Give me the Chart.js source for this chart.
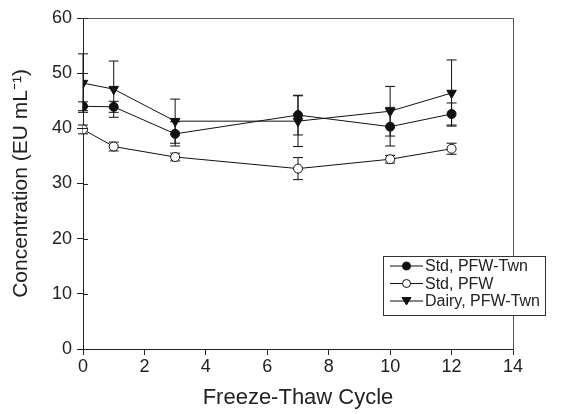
<!DOCTYPE html>
<html>
<head>
<meta charset="utf-8">
<script src="https://cdn.jsdelivr.net/npm/chart.js@4"></script>
<style>
  html, body { margin: 0; padding: 0; background: #fff; }
  #wrap { width: 566px; height: 414px; }
</style>
</head>
<body>
<div id="wrap"><canvas id="chart"></canvas></div>
<script>
const cycles = [0, 1, 3, 7, 10, 12];

const stdTwn = [44.0, 43.9, 39.0, 42.4, 40.3, 42.6];
const stdTwnErr = [0.8, 1.0, 2.2, 3.6, 3.5, 2.0];

const stdPfw = [39.8, 36.7, 34.8, 32.7, 34.4, 36.3];
const stdPfwErr = [0.8, 0.8, 0.7, 2.0, 0.7, 1.0];

const dairyTwn = [48.2, 47.1, 41.3, 41.3, 43.1, 46.4];
const dairyTwnErr = [5.3, 5.1, 4.0, 4.6, 4.5, 6.0];

const xTicks = [0, 2, 4, 6, 8, 10, 12, 14];
const yTicks = [0, 10, 20, 30, 40, 50, 60];

const FONT = '"Liberation Sans", Arial, sans-serif';
const ctx = document.getElementById('chart');

const pts = (vals, errs) => cycles.map((c, i) => ({ x: c, y: vals[i], err: errs[i] }));

// error bars, drawn before the points so markers sit on top
const errorBars = {
    id: 'errorBars',
    beforeDatasetsDraw(chart) {
        const c = chart.ctx;
        const xs = chart.scales.x, ys = chart.scales.y;
        c.save();
        c.strokeStyle = '#111';
        c.lineWidth = 1;
        chart.data.datasets.forEach((ds) => {
            ds.data.forEach((p) => {
                const px = xs.getPixelForValue(p.x);
                const top = ys.getPixelForValue(p.y + p.err);
                const bot = ys.getPixelForValue(p.y - p.err);
                c.beginPath();
                c.moveTo(px, top); c.lineTo(px, bot);
                c.moveTo(px - 5, top); c.lineTo(px + 5, top);
                c.moveTo(px - 5, bot); c.lineTo(px + 5, bot);
                c.stroke();
            });
        });
        c.restore();
    }
};

// box around plot + legend inside it
const frame = {
    id: 'frame',
    afterDraw(chart) {
        const c = chart.ctx;
        const a = chart.chartArea;
        c.save();
        c.strokeStyle = '#555';
        c.lineWidth = 1;
        c.beginPath();
        c.moveTo(a.left, a.top + 0.5); c.lineTo(a.right + 0.5, a.top + 0.5);
        c.lineTo(a.right + 0.5, a.bottom);
        c.stroke();

        // inner halves of the y ticks
        c.strokeStyle = '#222';
        c.beginPath();
        yTicks.forEach((v) => {
            const py = Math.round(chart.scales.y.getPixelForValue(v)) + 0.5;
            c.moveTo(a.left, py); c.lineTo(a.left + 5, py);
        });
        c.stroke();

        // legend
        const bx = 383, by = 256, bw = 162, bh = 59;
        c.fillStyle = '#fff';
        c.fillRect(bx, by, bw, bh);
        c.strokeStyle = '#333';
        c.strokeRect(bx + 0.5, by + 0.5, bw, bh);
        c.font = '16px ' + FONT;
        c.textBaseline = 'middle';
        chart.data.datasets.forEach((ds, i) => {
            const y = by + 10 + i * 17.5;
            c.strokeStyle = '#111';
            c.beginPath();
            c.moveTo(390, y); c.lineTo(423, y);
            c.stroke();
            c.fillStyle = ds.pointBackgroundColor;
            c.strokeStyle = '#111';
            c.beginPath();
            if (ds.pointStyle === 'triangle') {
                c.moveTo(402, y - 3.5); c.lineTo(411, y - 3.5); c.lineTo(406.5, y + 4);
                c.closePath();
            } else {
                c.arc(406.5, y, 4, 0, Math.PI * 2);
            }
            c.fill(); c.stroke();
            c.fillStyle = '#222';
            c.fillText(ds.label, 425, y + 1);
        });
        c.restore();
    }
};

const dataset = (label, vals, errs, style, fill) => ({
    label: label,
    data: pts(vals, errs),
    borderColor: '#111',
    borderWidth: 1,
    pointStyle: style,
    rotation: style === 'triangle' ? 180 : 0,
    pointRadius: style === 'triangle' ? 5.5 : 4.5,
    pointBackgroundColor: fill,
    pointBorderColor: '#111',
    pointBorderWidth: 1,
    tension: 0,
    fill: false,
});

new Chart(ctx, {
    type: 'line',
    data: {
        datasets: [
            dataset('Std, PFW-Twn', stdTwn, stdTwnErr, 'circle', '#111'),
            dataset('Std, PFW', stdPfw, stdPfwErr, 'circle', '#fff'),
            dataset('Dairy, PFW-Twn', dairyTwn, dairyTwnErr, 'triangle', '#111'),
        ],
    },
    options: {
        responsive: true,
        maintainAspectRatio: false,
        animation: false,
        layout: { padding: { top: 18, right: 53, left: 0, bottom: 0 } },
        plugins: {
            legend: { display: false },
            tooltip: { enabled: false },
        },
        scales: {
            x: {
                type: 'linear',
                min: 0,
                max: 14,
                afterBuildTicks: (s) => { s.ticks = xTicks.map((v) => ({ value: v })); },
                afterFit: (s) => { s.height = 65; },
                grid: { drawOnChartArea: false, tickLength: 6, color: '#222' },
                border: { color: '#222', width: 1 },
                ticks: {
                    color: '#222',
                    padding: 1,
                    maxRotation: 0,
                    font: { family: FONT, size: 18 },
                },
                title: {
                    display: true,
                    text: 'Freeze-Thaw Cycle',
                    color: '#222',
                    padding: { top: 0, bottom: 3 },
                    font: { family: FONT, size: 22 },
                },
            },
            y: {
                min: 0,
                max: 60,
                afterBuildTicks: (s) => { s.ticks = yTicks.map((v) => ({ value: v })); },
                afterFit: (s) => { s.width = 83; },
                grid: { drawOnChartArea: false, tickLength: 6, color: '#222' },
                border: { color: '#222', width: 1 },
                ticks: {
                    color: '#222',
                    padding: 5,
                    font: { family: FONT, size: 18 },
                },
                title: {
                    display: true,
                    text: 'Concentration (EU mL\u207B\u00B9)',
                    color: '#222',
                    padding: { top: 9, bottom: 0 },
                    font: { family: FONT, size: 21 },
                },
            },
        },
    },
    plugins: [errorBars, frame],
});
</script>
</body>
</html>
